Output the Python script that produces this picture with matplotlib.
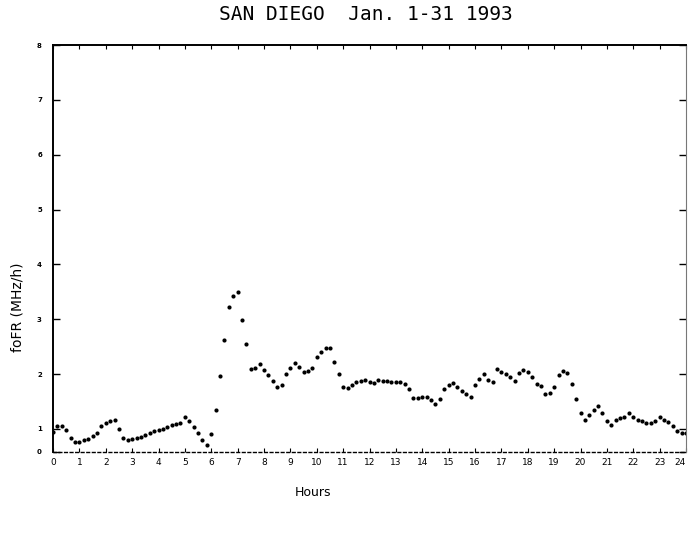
import numpy as np
import matplotlib
matplotlib.use("Agg")
import matplotlib.pyplot as plt

# Data: hourly-mean foF2 rate read every 10 minutes (hours 0..24)
hours = [k / 6 for k in range(145)]
fofr = [
    0.95, 1.06, 1.05, 0.98, 0.83, 0.77,  # 0-1
    0.77, 0.79, 0.81, 0.87, 0.92, 1.06,  # 1-2
    1.11, 1.15, 1.17, 1.00, 0.83, 0.80,  # 2-3
    0.81, 0.84, 0.86, 0.89, 0.93, 0.96,  # 3-4
    0.98, 1.00, 1.03, 1.07, 1.09, 1.11,  # 4-5
    1.22, 1.14, 1.04, 0.93, 0.79, 0.71,  # 5-6
    0.90, 1.35, 1.97, 2.63, 3.22, 3.42,  # 6-7
    3.50, 2.98, 2.54, 2.09, 2.12, 2.18,  # 7-8
    2.07, 1.98, 1.88, 1.77, 1.80, 2.00,  # 8-9
    2.12, 2.20, 2.13, 2.04, 2.05, 2.12,  # 9-10
    2.32, 2.40, 2.48, 2.48, 2.22, 2.00,  # 10-11
    1.76, 1.75, 1.80, 1.86, 1.88, 1.89,  # 11-12
    1.86, 1.84, 1.89, 1.88, 1.87, 1.86,  # 12-13
    1.85, 1.85, 1.82, 1.72, 1.56, 1.56,  # 13-14
    1.59, 1.58, 1.52, 1.46, 1.55, 1.72,  # 14-15
    1.80, 1.84, 1.76, 1.70, 1.64, 1.59,  # 15-16
    1.80, 1.91, 2.00, 1.90, 1.86, 2.10,  # 16-17
    2.04, 2.00, 1.95, 1.88, 2.02, 2.08,  # 17-18
    2.03, 1.95, 1.82, 1.79, 1.64, 1.66,  # 18-19
    1.77, 1.98, 2.05, 2.02, 1.82, 1.55,  # 19-20
    1.30, 1.17, 1.26, 1.35, 1.42, 1.30,  # 20-21
    1.14, 1.08, 1.16, 1.20, 1.22, 1.29,  # 21-22
    1.22, 1.17, 1.14, 1.11, 1.11, 1.14,  # 22-23
    1.21, 1.16, 1.12, 1.06, 0.96, 0.92,  # 23-24
    0.93,
]
x_ticks = list(range(25))
x_tick_labels = [str(h) for h in x_ticks]
y_ticks = [1, 2, 3, 4, 5, 6, 7, 8]
y_tick_labels = [str(v) for v in y_ticks]

title = "SAN DIEGO  Jan. 1-31 1993"
ylabel = "foFR (MHz/h)"
xlabel = "Hours"

fig = plt.figure(figsize=(6.89, 5.36), dpi=100)
ax = fig.add_axes([53 / 689, 1 - 452 / 536, (686 - 53) / 689, (452 - 45) / 536])

ax.plot(hours, fofr, linestyle="none", marker="o", markersize=3.0,
        color="black", markeredgewidth=0)

ax.set_xlim(0, 24)
ax.set_ylim(0.58, 8.0)

ax.set_xticks(x_ticks)
ax.set_xticklabels(x_tick_labels, fontsize=6.5)
ax.get_xticklabels()[-1].set_horizontalalignment("right")
ax.set_yticks([0.58] + y_ticks)
ax.set_yticklabels(["0"] + y_tick_labels, fontsize=5, fontweight="bold")

ax.tick_params(axis="x", direction="in", length=3, width=0.8, pad=4,
               top=True, bottom=True)
ax.tick_params(axis="y", direction="in", length=5, width=1.0, pad=8,
               left=True, right=True)

for side in ["left", "top"]:
    ax.spines[side].set_linewidth(1.4)
ax.spines["right"].set_linewidth(0.8)
ax.spines["right"].set_color("#777777")
ax.spines["bottom"].set_linestyle((0, (2, 2)))
ax.spines["bottom"].set_linewidth(1.0)

fig.text(366 / 689, 1 - 15 / 536, title, ha="center", va="center",
         fontsize=14, family="DejaVu Sans Mono")
fig.text(18 / 689, 1 - 307 / 536, ylabel, ha="center", va="center",
         rotation=90, fontsize=10)
fig.text(313 / 689, 1 - 492 / 536, xlabel, ha="center", va="center",
         fontsize=9)

fig.savefig("out.png", dpi=100, facecolor="white")
